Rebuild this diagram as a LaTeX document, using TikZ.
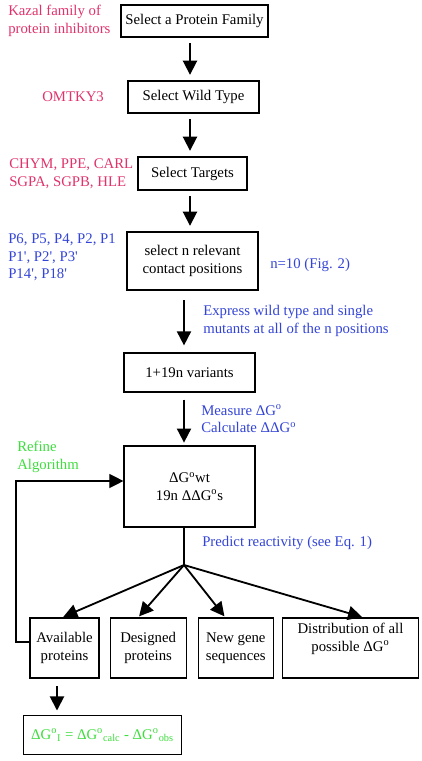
\documentclass[tikz,border=0pt]{standalone}
\usepackage{fontspec}
\setmainfont{Liberation Serif}
\usepackage{xcolor}
\usetikzlibrary{arrows.meta,calc,positioning}
\definecolor{lblred}{HTML}{E0336B}
\definecolor{lblblue}{HTML}{3344D6}
\definecolor{lblgreen}{HTML}{3DDD3D}
\newcommand{\pq}{\textquotesingle}
\newcommand{\dgo}{ΔG\textsuperscript{o}}
\tikzset{
    -{Triangle[width=10pt,length=10pt]},semithick,
    font=\fontsize{10.5}{12.5}\selectfont,
    box/.style ={rectangle, draw=black, line width=0.8pt, align=center, inner sep=1pt},
    lbl/.style ={inner sep=0pt, align=left, anchor=west},
    flow/.style={line width=1.3pt, shorten <=4pt, shorten >=4pt},
    back/.style={line width=0.9pt}
}
\begin{document}
\begin{tikzpicture}[x=0.025cm,y=-0.025cm]
        \useasboundingbox (0,0) rectangle (421,761);
        % main column
        \node[box, minimum width=3.675cm, minimum height=0.8cm] (fam) at (194.5,21) {Select a Protein Family};
        \node[box, minimum width=3.275cm, minimum height=0.8cm] (wt) at (193.5,97) {Select Wild Type};
        \node[box, minimum width=2.725cm, minimum height=0.825cm] (tgt) at (192.5,173.5) {Select Targets};
        \node[box, minimum width=3.275cm, minimum height=1.45cm] (pos) at (192.5,261) {select n relevant\\contact positions};
        \node[box, minimum width=3.275cm, minimum height=0.975cm] (var) at (189.5,372.5) {1+19n variants};
        \node[box, minimum width=3.275cm, minimum height=2.025cm] (dg) at (189.5,486.5) {\dgo wt\\19n Δ\dgo s};

        % outcome row
        \node[box, minimum width=1.725cm, minimum height=1.5cm] (avail) at (64.5,648) {Available\\proteins};
        \node[box, minimum width=1.9cm, minimum height=1.5cm, right=0.25cm of avail] (design) {Designed\\proteins};
        \node[box, minimum width=1.875cm, minimum height=1.5cm, right=0.275cm of design] (gene) {New gene\\sequences};
        \node[box, minimum width=3.4cm, minimum height=1.5cm, right=0.2cm of gene] (dist) {Distribution of all\\possible \dgo\\[3pt]};
        \node[box, draw=none, minimum width=3.925cm, minimum height=0.95cm] (err) at (102.5,735)
        {\textcolor{lblgreen}{\dgo\textsubscript{I} = \dgo\textsubscript{calc} - \dgo\textsubscript{obs}}};
        \draw[-, draw=black, line width=0.8pt] (err.south west) rectangle (err.north east);

        % side labels
        \node[lbl, lblred] (kz) at (8,21) {Kazal family of\\protein inhibitors};
        \node[lbl, lblred] (om) at (42,97) {OMTKY3};
        \node[lbl, lblred] (enz) at (9,174) {CHYM, PPE, CARL\\SGPA, SGPB, HLE};
        \node[lbl, lblblue] (sites) at (8,257.5) {P6, P5, P4, P2, P1\\P1\pq, P2\pq, P3\pq\\P14\pq, P18\pq};
        \node[lbl, lblblue] (nten) at (270,265) {n=10 (Fig. 2)};
        \node[lbl, lblblue] (expr) at (203,321) {Express wild type and single\\mutants at all of the n positions};
        \node[lbl, lblblue] (meas) at (201,419) {Measure \dgo\\Calculate Δ\dgo};
        \node[lbl, lblgreen] (refine) at (17,457) {Refine\\Algorithm};
        \node[lbl, lblblue] (pred) at (202,543) {Predict reactivity (see Eq. 1)};

        \coordinate (ca) at (190,0);
        \coordinate (cb) at (184,0);
        \coordinate (cc) at (57,0);
        \coordinate (split) at (184,565);
        \coordinate (fb) at (16,481);

        \path[flow] (fam.south -| ca) edge (wt.north -| ca);
        \path[flow] (wt.south -| ca) edge (tgt.north -| ca);
        \path[flow] (tgt.south -| ca) edge (pos.north -| ca);
        \path[flow, shorten <=7pt, shorten >=5pt] (pos.south -| cb) edge (var.north -| cb);
        \path[flow, shorten <=5pt, shorten >=2pt] (var.south -| cb) edge (dg.north -| cb);

        \draw[-, line width=1.3pt] (dg.south -| cb) -- (split);
        \path[flow, shorten <=0pt, shorten >=1pt] (split) edge ($(avail.north)+(-2.5,0)$);
        \path[flow, shorten <=0pt, shorten >=1pt] (split) edge ($(design.north)+(-10,0)$);
        \path[flow, shorten <=0pt, shorten >=1pt] (split) edge ($(gene.north)+(-10.5,0)$);
        \path[flow, shorten <=0pt, shorten >=1pt] (split) edge ($(dist.north)+(13,0)$);

        \draw[back] ($(avail.west)+(0,-6)$) -| (fb) -- (dg.west |- fb);
        \path[flow, shorten <=5.5pt, shorten >=3.5pt] (avail.south -| cc) edge (err.north -| cc);
\end{tikzpicture}
\end{document}
